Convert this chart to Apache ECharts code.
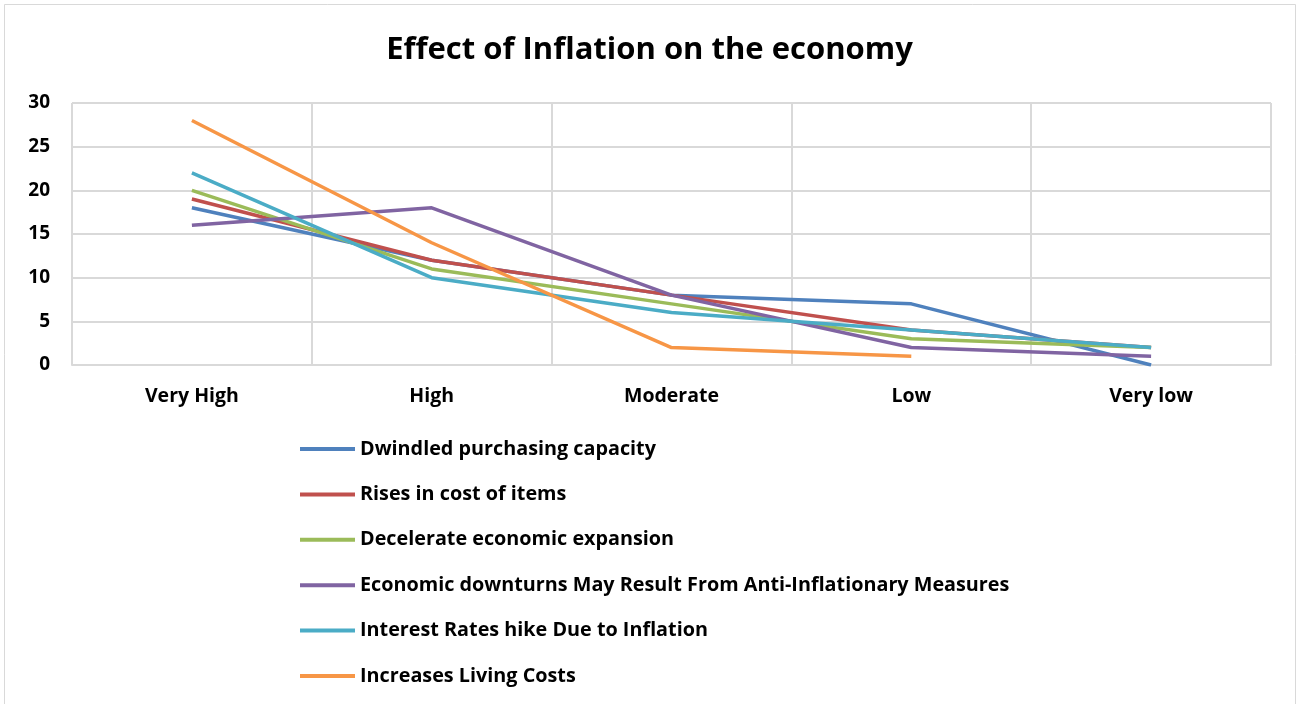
<!DOCTYPE html>
<html><head><meta charset="utf-8">
<script src="https://cdn.jsdelivr.net/npm/echarts@6/dist/echarts.min.js"></script>
<style>html,body{margin:0;padding:0;background:#fff}#c{width:1299px;height:704px}</style>
</head><body><div id="c"></div>
<script>
const categories = ['Very High', 'High', 'Moderate', 'Low', 'Very low'];
const seriesNames = [
  'Dwindled purchasing capacity',
  'Rises in cost of items',
  'Decelerate economic expansion',
  'Economic downturns May Result From Anti-Inflationary Measures',
  'Interest Rates hike Due to Inflation',
  'Increases Living Costs'
];
const dwindled = [18, 12, 8, 7, 0];
const risesCost = [19, 12, 8, 4, 2];
const decelerate = [20, 11, 7, 3, 2];
const downturns = [16, 18, 8, 2, 1];
const interestRates = [22, 10, 6, 4, 2];
const livingCosts = [28, 14, 2, 1, null];
const yTicks = [0, 5, 10, 15, 20, 25, 30];
const colors = ['#4F81BD', '#C0504D', '#9BBB59', '#8064A2', '#4BACC6', '#F79646'];
const allData = [dwindled, risesCost, decelerate, downturns, interestRates, livingCosts];

const FONT = 'Open Sans';
const chart = echarts.init(document.getElementById('c'), null, {renderer: 'canvas'});
chart.setOption({
  animation: false,
  backgroundColor: '#fff',
  color: colors,
  title: {
    text: 'Effect of Inflation on the economy',
    left: 'center', top: 30,
    textStyle: {fontFamily: FONT, fontWeight: 'bold', fontSize: 31, color: '#000'}
  },
  graphic: [{
    type: 'rect', shape: {x: 4.5, y: 4.5, width: 1291, height: 710},
    style: {fill: 'none', stroke: '#d9d9d9', lineWidth: 1}, silent: true
  }],
  grid: {left: 72, right: 28, top: 103, bottom: 339, containLabel: false},
  legend: {
    orient: 'vertical', left: 300, top: 439, padding: 0,
    icon: 'rect', itemWidth: 55, itemHeight: 4, itemGap: 25.4,
    textStyle: {fontFamily: FONT, fontWeight: 'bold', fontSize: 19.8, color: '#000', lineHeight: 20},
    data: seriesNames
  },
  xAxis: {
    type: 'category', data: categories, boundaryGap: true,
    axisLine: {show: true, lineStyle: {color: '#d9d9d9', width: 2}},
    axisTick: {show: false},
    splitLine: {show: true, lineStyle: {color: '#d9d9d9', width: 2}},
    axisLabel: {fontFamily: FONT, fontWeight: 'bold', fontSize: 19.5, color: '#000', margin: 21}
  },
  yAxis: {
    type: 'value', min: 0, max: 30, interval: 5,
    axisLine: {show: false}, axisTick: {show: false},
    splitLine: {show: true, lineStyle: {color: '#d9d9d9', width: 2}},
    axisLabel: {fontFamily: FONT, fontWeight: 'bold', fontSize: 19, color: '#000', margin: 22,
      formatter: v => yTicks.includes(v) ? String(v) : ''}
  },
  series: seriesNames.map((n, i) => ({
    name: n, type: 'line', data: allData[i], showSymbol: false, symbol: 'none',
    connectNulls: false,
    lineStyle: {width: 3.5, color: colors[i]}, itemStyle: {color: colors[i]}
  }))
});
</script></body></html>
